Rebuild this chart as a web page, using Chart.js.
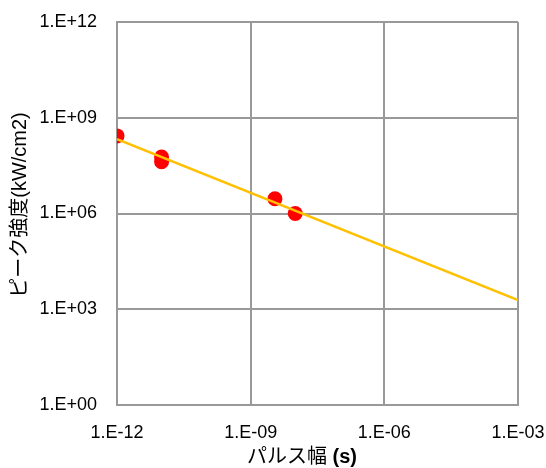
<!DOCTYPE html>
<html>
<head>
<meta charset="utf-8">
<script src="https://cdn.jsdelivr.net/npm/chart.js@4/dist/chart.umd.min.js"></script>
<style>
  html, body { margin: 0; padding: 0; background: #fff; }
  #wrap { width: 546px; height: 468px; }
</style>
</head>
<body>
<div id="wrap"><canvas id="chart" width="546" height="468"></canvas></div>
<script>
// data
const pulseWidth = [1e-12, 1e-11, 1e-11, 3.5e-9, 1e-8];        // s
const peakIntensity = [2.7e8, 5.9e7, 4.2e7, 2.9e6, 1.0e6];      // kW/cm2

// power trendline, ends of the fitted line
const trendX = [1e-12, 1e-3];
const trendY = [2.15e8, 1.95e3];

const xTicks = [1e-12, 1e-9, 1e-6, 1e-3];
const xTickLabels = ['1.E-12', '1.E-09', '1.E-06', '1.E-03'];
const yTicks = [1e0, 1e3, 1e6, 1e9, 1e12];
const yTickLabels = ['1.E+00', '1.E+03', '1.E+06', '1.E+09', '1.E+12'];

const xTitle = 'パルス幅';
const xTitleUnit = '(s)';
const yTitle = 'ピーク強度(kW/cm2)';

const FONT = '"Liberation Sans", "Noto Sans CJK JP", sans-serif';
const GRID = '#999999';

// axis titles: x title has a bold unit part
const titles = {
    id: 'titles',
    afterDraw(chart) {
        const ctx = chart.ctx;
        ctx.save();
        ctx.fillStyle = '#000';
        ctx.textBaseline = 'middle';
        // x title
        ctx.font = '20px ' + FONT;
        const w1 = ctx.measureText(xTitle + ' ').width;
        ctx.font = 'bold 20px ' + FONT;
        const w2 = ctx.measureText(xTitleUnit).width;
        let x = 302 - (w1 + w2) / 2;
        ctx.textAlign = 'left';
        ctx.font = '20px ' + FONT;
        ctx.fillText(xTitle + ' ', x, 457);
        ctx.font = 'bold 20px ' + FONT;
        ctx.fillText(xTitleUnit, x + w1, 457);
        // y title
        ctx.translate(20, 205);
        ctx.rotate(-Math.PI / 2);
        ctx.textAlign = 'center';
        ctx.font = '20px ' + FONT;
        ctx.fillText(yTitle, 0, 0);
        ctx.restore();
    }
};

new Chart(document.getElementById('chart'), {
    type: 'scatter',
    data: {
        datasets: [
            {
                label: 'trend',
                data: trendX.map((v, i) => ({ x: v, y: trendY[i] })),
                showLine: true,
                borderColor: '#FFC000',
                borderWidth: 2.5,
                pointRadius: 0,
                order: 0
            },
            {
                label: 'data',
                data: pulseWidth.map((v, i) => ({ x: v, y: peakIntensity[i] })),
                backgroundColor: '#FF0000',
                borderColor: '#FF0000',
                pointRadius: 7.5,
                borderWidth: 0,
                order: 1
            }
        ]
    },
    options: {
        responsive: false,
        animation: false,
        layout: { padding: { top: 22, right: 28, left: 0, bottom: 0 } },
        plugins: {
            legend: { display: false },
            tooltip: { enabled: false }
        },
        scales: {
            x: {
                type: 'logarithmic',
                min: 1e-12,
                max: 1e-3,
                afterBuildTicks: axis => { axis.ticks = xTicks.map(v => ({ value: v })); },
                afterFit: axis => {
                    axis.height = 63;
                    axis.paddingLeft = 0;
                    axis.paddingRight = 0;
                },
                ticks: {
                    callback: (v) => xTickLabels[xTicks.indexOf(v)],
                    font: { family: FONT, size: 18 },
                    color: '#000',
                    padding: 17,
                    maxRotation: 0,
                    autoSkip: false
                },
                grid: { color: GRID, lineWidth: 2, drawTicks: false },
                border: { color: GRID, width: 2 }
            },
            y: {
                type: 'logarithmic',
                min: 1e0,
                max: 1e12,
                afterBuildTicks: axis => { axis.ticks = yTicks.map(v => ({ value: v })); },
                afterFit: axis => {
                    axis.width = 117;
                    axis.paddingTop = 0;
                    axis.paddingBottom = 0;
                },
                ticks: {
                    callback: (v) => yTickLabels[yTicks.indexOf(v)],
                    font: { family: FONT, size: 18 },
                    color: '#000',
                    padding: 20,
                    autoSkip: false
                },
                grid: { color: GRID, lineWidth: 2, drawTicks: false },
                border: { color: GRID, width: 2 }
            }
        }
    },
    plugins: [titles]
});
</script>
</body>
</html>
